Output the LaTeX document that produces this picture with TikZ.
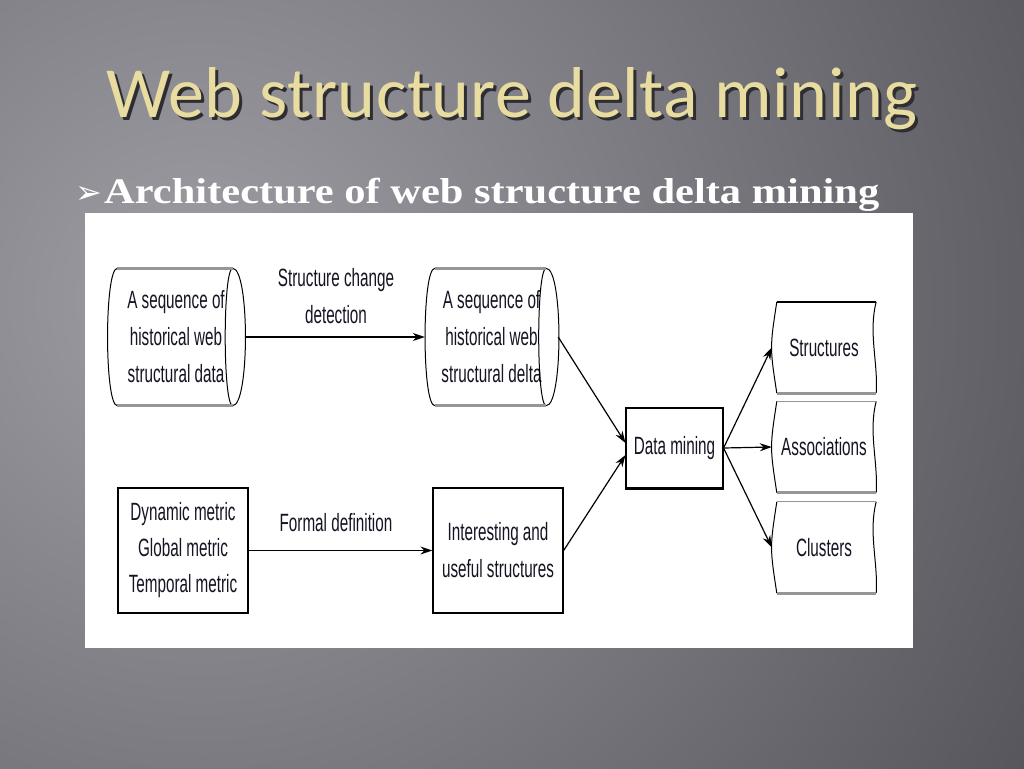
\documentclass[tikz,border=0pt]{standalone}
\usepackage{fontspec}
\usetikzlibrary{arrows.meta,calc}
\setmainfont{Liberation Serif}
\newfontfamily\titlefont[LetterSpace=0.8]{Carlito}
\newfontfamily\subfont[FakeStretch=1.18]{Liberation Serif}
\newfontfamily\narrowfont[FakeStretch=0.61]{Liberation Sans}
\newfontfamily\symfont{DejaVu Sans}
\definecolor{bgin}{RGB}{158,158,164}
\definecolor{bgout}{RGB}{82,82,88}
\definecolor{gold}{RGB}{232,220,160}
\definecolor{tshadow}{RGB}{45,45,50}
\definecolor{ink}{RGB}{20,20,35}
\definecolor{shad}{RGB}{150,150,150}
\newcommand\cylshape[1]{%
  \draw[line width=1pt] ([xshift=10pt]#1.north west) .. controls ([xshift=-3pt]#1.north west) and ([xshift=-3pt]#1.south west) .. ([xshift=10pt]#1.south west);
  \draw[line width=1pt] ([xshift=-12pt]#1.north east) .. controls ([xshift=-22pt]#1.north east) and ([xshift=-22pt]#1.south east) .. ([xshift=-12pt]#1.south east);
  \draw[line width=1pt] ([xshift=-12pt]#1.north east) .. controls ([xshift=5pt]#1.north east) and ([xshift=5pt]#1.south east) .. ([xshift=-12pt]#1.south east);
  \draw[shad, line width=3pt] ([xshift=10pt]#1.north west) -- ([xshift=-12pt]#1.north east);
  \draw[shad, line width=3pt] ([xshift=10pt]#1.south west) -- ([xshift=-12pt]#1.south east);
}
\newcommand\docshape[2]{%
  \draw[line width=1pt] ([xshift=5pt]#1.north west) .. controls ([xshift=-2pt]#1.west) and ([xshift=-2pt]#1.west) .. ([xshift=5pt]#1.south west);
  \draw[line width=1pt] (#1.north east) .. controls ([xshift=-8pt,yshift=15pt]#1.east) and ([xshift=2pt,yshift=-15pt]#1.east) .. (#1.south east);
  \draw[#2] ([xshift=5pt]#1.north west) -- (#1.north east);
  \draw[shad, line width=3pt] ([xshift=5pt]#1.south west) -- (#1.south east);
}
\newcommand\shadowtext[1]{\makebox[0pt][l]{\kern3pt\raisebox{-3pt}{\textcolor{tshadow}{#1}}}#1}
\begin{document}
\begin{tikzpicture}[x=1pt,y=-1pt,
  lbl/.style={font=\narrowfont\fontsize{25}{37}\selectfont, text=ink, align=center, inner sep=0pt},
  cyl/.style={lbl, minimum height=137pt},
  docnode/.style={lbl, minimum width=104pt, minimum height=91pt},
  boxnode/.style={lbl, draw=black, line width=1.3pt, minimum width=130pt, minimum height=125pt},
  conn/.style={line width=1.2pt, -{Stealth[length=12pt,width=8pt]}}]
\useasboundingbox (0,0) rectangle (1024,768);
\begin{scope}
  \clip (0,0) rectangle (1024,768);
  \fill[bgout] (0,0) rectangle (1024,768);
  \shade[inner color=bgin, outer color=bgout] (200,300) circle (1000);
\end{scope}
\node[font=\titlefont\fontsize{72}{80}\selectfont, text=gold, inner sep=0pt] (title) at (512,100) {\shadowtext{Web structure delta mining}};
\node[anchor=base west, font=\subfont\bfseries\fontsize{36}{40}\selectfont, text=white, inner sep=0pt] (sub) at (104,203) {Architecture of web structure delta mining};
\node[anchor=base east, font=\symfont\fontsize{32}{34}\selectfont, text=white, inner sep=0pt] (bul) at ([xshift=-1pt]sub.base west) {➢};
\fill[white] (85,213) rectangle (913,648);
% nodes
\node[cyl, minimum width=137pt] (c1) at (176,337) {A sequence of\\historical web\\structural data};
\node[cyl, minimum width=133pt] (c2) at (491.5,337) {A sequence of\\historical web\\structural delta};
\cylshape{c1}
\cylshape{c2}
\node[lbl] (l1) at (336,296) {Structure change\\detection};
\node[boxnode, font=\narrowfont\fontsize{25}{36}\selectfont] (b1) at (183,550.5) {Dynamic metric\\Global metric\\Temporal metric};
\node[boxnode] (b2) at (498,550.5) {Interesting and\\useful structures};
\node[lbl] (l2) at (336,523) {Formal definition};
\node[lbl, draw=black, line width=1.1pt, minimum width=97pt, minimum height=80pt] (dm) at (674.5,448) {Data mining};
\draw[line width=3pt] (dm.south west) -- (dm.south east);
\node[docnode] (d1) at (824,347.5) {Structures};
\node[docnode] (d2) at (824,447) {Associations};
\node[docnode] (d3) at (824,547.5) {Clusters};
\docshape{d1}{line width=2.5pt}
\docshape{d2}{shad, line width=1pt}
\docshape{d3}{shad, line width=1pt}
% connectors
\draw[conn] (c1.east) -- (c2.west);
\draw[conn] (b1.east) -- (b2.west);
\draw[conn] (c2.east) -- ([yshift=5pt]dm.west);
\draw[conn] (b2.east) -- ([yshift=-7pt]dm.west);
\draw[conn] (dm.east) -- (d1.west);
\draw[conn] (dm.east) -- (d2.west);
\draw[conn] (dm.east) -- (d3.west);
\end{tikzpicture}
\end{document}
